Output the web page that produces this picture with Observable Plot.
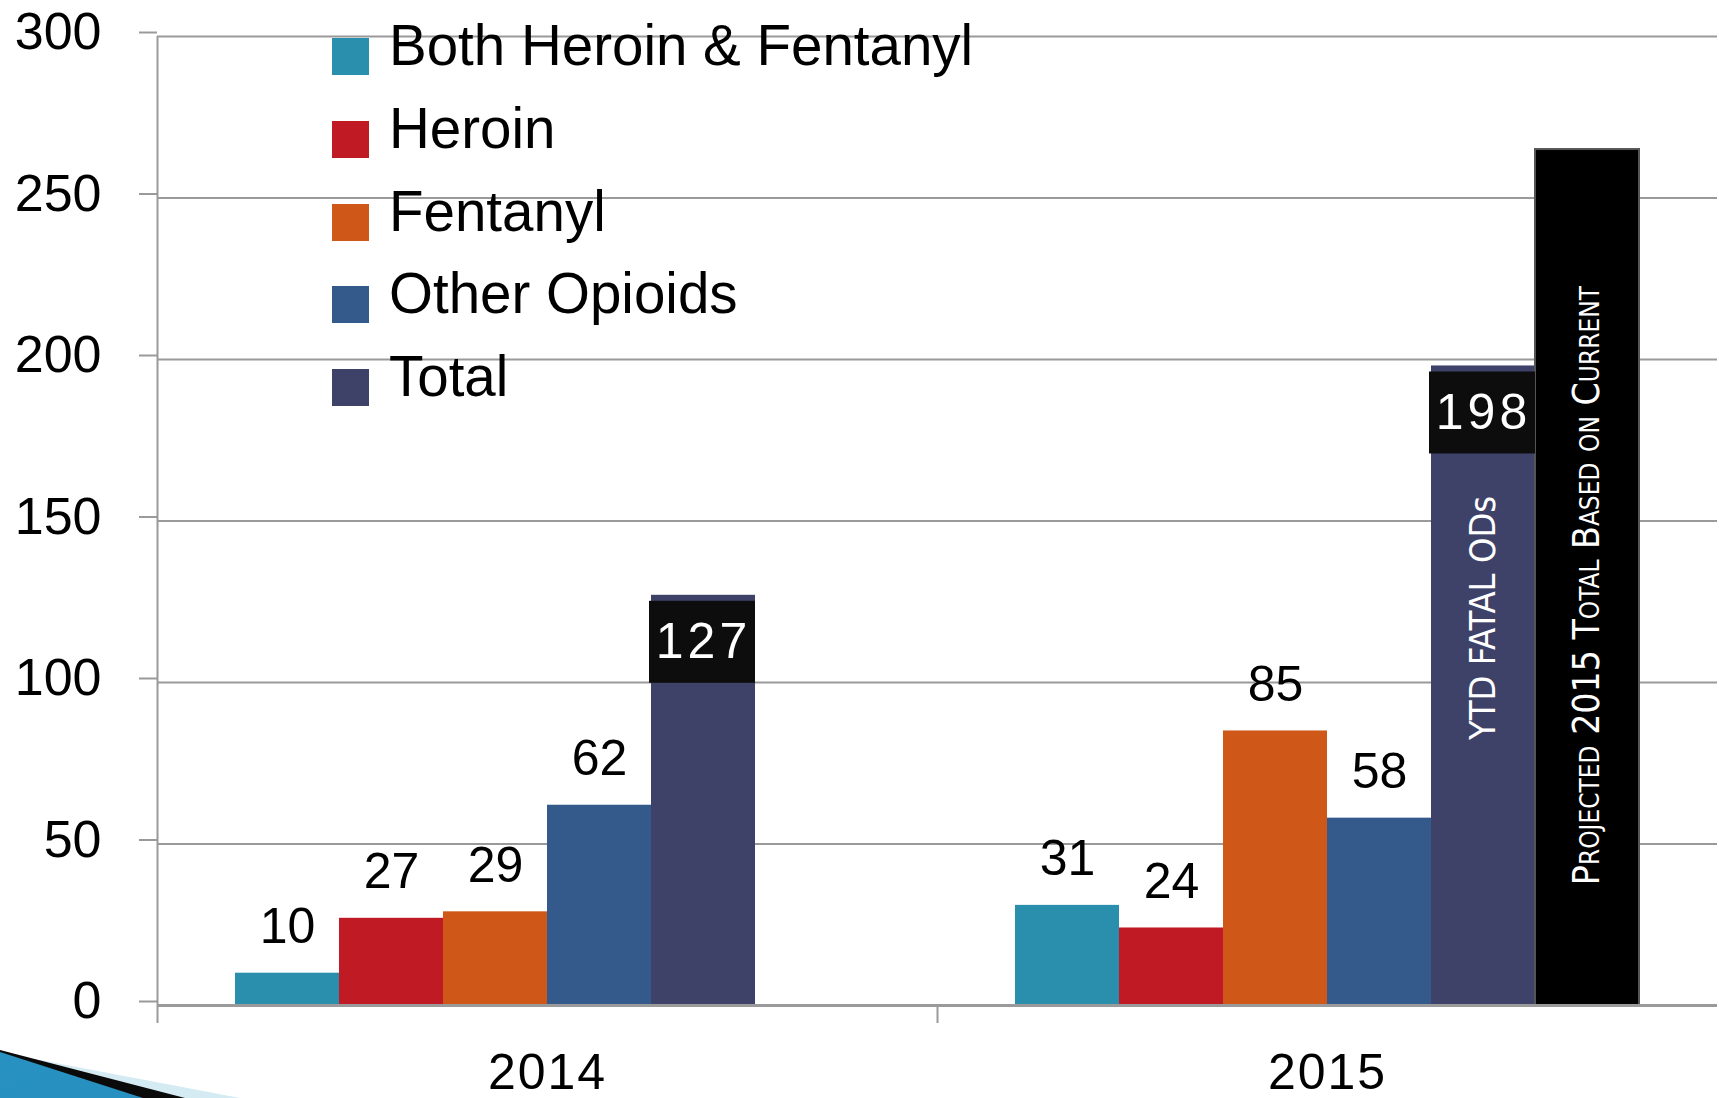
<!DOCTYPE html>
<html><head><meta charset="utf-8">
<script src="https://cdn.jsdelivr.net/npm/d3@7"></script>
<script src="https://cdn.jsdelivr.net/npm/@observablehq/plot@0.6"></script>
<style>
html,body{margin:0;padding:0;background:#fff;}
#wrap{position:relative;width:1719px;height:1098px;overflow:hidden;font-family:"Liberation Sans",Arial,sans-serif;}
#chart{position:absolute;left:0;top:0;}
#legend{position:absolute;left:332px;top:38px;}
.row{position:absolute;left:0;height:37px;white-space:nowrap;}
.sw{position:absolute;left:0;top:0;width:37px;height:37px;}
.lt{position:absolute;left:57px;top:-20px;font-size:56.5px;line-height:56px;color:#000;}
.deco{position:absolute;left:0;top:0;width:1719px;height:1098px;pointer-events:none;}
</style></head>
<body><div id="wrap"><div id="chart"></div><div id="legend"></div>
<div class="deco" style="background:#d4ebf3;clip-path:polygon(40px 1060px,240px 1098px,0 1098px);"></div>
<div class="deco" style="background:#0a0a0a;clip-path:polygon(0 1050px,185px 1098px,0 1098px);"></div>
<div class="deco" style="background:linear-gradient(160deg,#35a3cf 0%,#1f86b8 100%);clip-path:polygon(0 1052px,143px 1098px,0 1098px);"></div>
</div>
<script>
const years = ["2014", "2015"];
const categories = ["Both Heroin & Fentanyl", "Heroin", "Fentanyl", "Other Opioids", "Total"];
const values2014 = [10, 27, 29, 62, 127];
const values2015 = [31, 24, 85, 58, 198];
const projectedKey = "Projected";
const projectedValue = 265;
const ytdLabel = "YTD FATAL ODs";
const projectedLabel = "Projected 2015 Total Based on Current";
const yTicks = [0, 50, 100, 150, 200, 250, 300];

const colors = ["#2a8fad", "#c01a24", "#cf5717", "#335a8a", "#3f4268"];

const data = [];
categories.forEach((k, i) => data.push({year: "2014", key: k, value: values2014[i]}));
categories.forEach((k, i) => data.push({year: "2015", key: k, value: values2015[i]}));
const totals = data.filter(d => d.key === "Total");
const others = data.filter(d => d.key !== "Total");
const projected = [{year: "2015", key: projectedKey, value: projectedValue, label: projectedLabel}];
const ytd = [{year: "2015", key: "Total", label: ytdLabel}];
const axisMarks = [{year: "2014", top: 300}, {year: "2015", top: 0}];

const narrow = "'Liberation Sans Narrow','DejaVu Sans Condensed','Liberation Sans',sans-serif";

const chart = Plot.plot({
  width: 1719, height: 1098,
  marginTop: 36, marginBottom: 93, marginLeft: 157, marginRight: 2,
  style: {fontFamily: "'Liberation Sans',Arial,sans-serif", background: "transparent", color: "#000"},
  fx: {domain: years, padding: 0, label: null},
  x: {domain: [...categories, projectedKey], paddingInner: 0, paddingOuter: 0.75, axis: null},
  y: {domain: [0, 300], axis: null},
  color: {domain: categories, range: colors},
  facet: {marginTop: 0, marginBottom: 0, marginLeft: 0, marginRight: 0},
  marks: [
    Plot.gridY(yTicks, {stroke: "#9a9a9a", strokeOpacity: 1, strokeWidth: 2}),
    Plot.barY(data, {fx: "year", x: "key", y: "value", fill: "key"}),
    Plot.barY(projected, {fx: "year", x: "key", y: "value", fill: "#000", stroke: "#555", strokeWidth: 2}),
    Plot.ruleY([0], {stroke: "#9a9a9a", strokeWidth: 3}),
    Plot.ruleX(axisMarks, {fx: "year", x: () => categories[0], y1: "top", y2: 0, dx: -130, insetBottom: -18, stroke: "#9a9a9a", strokeWidth: 2}),
    Plot.text(others, {fx: "year", x: "key", y: "value", text: d => String(d.value), dy: -30, lineAnchor: "bottom", fontSize: 50, fill: "#000"}),
    Plot.barY(totals, {fx: "year", x: "key", y1: "value", y2: "value", insetTop: 6, insetBottom: -88, insetLeft: -2, fill: "#0d0d0d"}),
    Plot.text(totals, {fx: "year", x: "key", y: "value", text: d => String(d.value), dy: 47, lineAnchor: "middle", fontSize: 50, fill: "#fff"}),
    Plot.text(ytd, {fx: "year", x: "key", y: 120, text: "label", rotate: -90, fontSize: 36, fontFamily: narrow, fill: "#fff"}),
    Plot.text(projected, {fx: "year", x: "key", y: 130, text: "label", rotate: -90, fontSize: 37, fontVariant: "small-caps", fontFamily: narrow, fill: "#fff"}),
    Plot.axisY({ticks: yTicks, tickSize: 18, tickPadding: 38, stroke: "#9a9a9a", strokeWidth: 2, fontSize: 52, dy: -4, label: null, fill: "#000"}),
    Plot.axisFx({anchor: "bottom", tickSize: 0, tickPadding: 48, fontSize: 50, label: null, fill: "#000"})
  ]
});
document.getElementById("chart").appendChild(chart);
d3.select(chart).selectAll("text").filter(function(){return this.textContent === "127" || this.textContent === "198";}).style("letter-spacing", "4px");
d3.select(chart).selectAll("text").filter(function(){return this.textContent === "2014" || this.textContent === "2015";}).style("letter-spacing", "2px");

const legend = document.getElementById("legend");
categories.forEach((k, i) => {
  const row = document.createElement("div");
  row.className = "row";
  row.style.top = (i * 82.8) + "px";
  row.innerHTML = `<div class="sw" style="background:${colors[i]}"></div><div class="lt"></div>`;
  row.querySelector(".lt").textContent = k;
  legend.appendChild(row);
});
</script>
</body></html>
